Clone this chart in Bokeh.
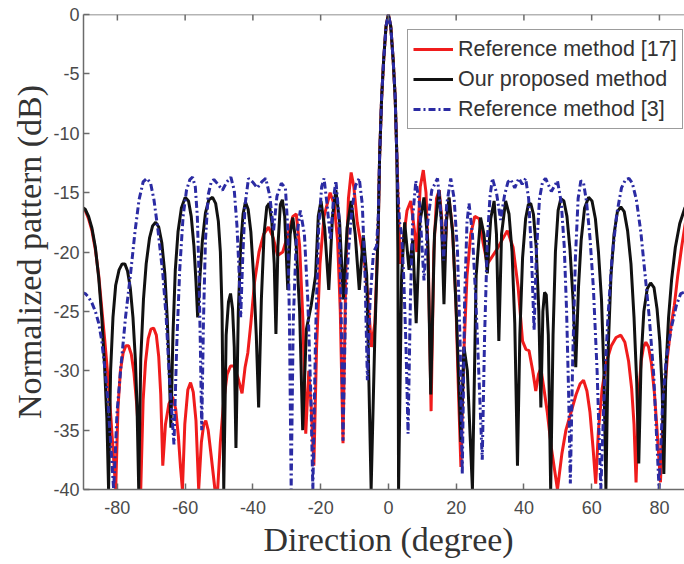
from bokeh.plotting import figure
from bokeh.models import Range1d, FixedTicker, Title, Span
from bokeh.embed import file_html
from bokeh.resources import INLINE

# ---------------- data ----------------
x_ticks = [-80, -60, -40, -20, 0, 20, 40, 60, 80]
x_tick_labels = ["-80", "-60", "-40", "-20", "0", "20", "40", "60", "80"]
y_ticks = [-40, -35, -30, -25, -20, -15, -10, -5, 0]
y_tick_labels = ["-40", "-35", "-30", "-25", "-20", "-15", "-10", "-5", "0"]

series_names = ["Reference method [17]", "Our proposed method", "Reference method [3]"]

# main beam (shared by all three methods)
beam_deg = [-2.6, -2.0, -1.4, -0.7, 0, 0.7, 1.4, 2.0, 2.5]
beam_db = [-12, -7, -3.8, -1.0, 0, -1.0, -3.8, -7, -12]

red_left_deg = [-90.5, -89.5, -88.5, -87.5, -86.5, -85.5, -84.6, -83.7, -82.8, -81.9, -81.2, -80.5,
                -79.8, -79.1, -78.3, -77.5, -76.7, -75.9, -75.1, -74.3, -73.7, -73.1,
                -72.4, -71.7, -70.9, -70.1, -69.3, -68.5, -67.8, -67.2, -66.6,
                -65.8, -64.8, -63.7, -62.8, -62, -61.4, -60.8,
                -60.1, -59.2, -58.4, -57.6, -56.8, -56,
                -55.2, -54.5, -53.9, -53.2, -52.3, -51.2,
                -50.4, -49.6, -48.6, -47.6, -46.6, -45.6, -44.5, -43.2, -42.3, -41.5, -40.6, -39.5,
                -38.2, -36.8, -35.4, -34, -32.7, -31.2, -29.6, -28.2, -27.2, -26.2, -25.2, -24.4,
                -23.5, -22.8, -22, -21.2, -20.2, -19, -17.2, -16, -15, -14.2, -13.4, -12.6, -11.8,
                -11, -10.2, -9.2, -8, -7, -6, -5, -4, -3]
red_left_db = [-16.2, -16.5, -17.2, -18.2, -19.8, -22, -24.8, -27.5, -30.5, -34, -37, -40,
               -33, -30, -28.5, -27.9, -27.9, -28.6, -30.2, -32.8, -35.5, -40,
               -32.5, -29.3, -27.3, -26.5, -26.4, -27, -28.8, -32, -38,
               -34.5, -32.8, -32.2, -33.2, -35.5, -38, -40,
               -34.5, -31.6, -31, -31.8, -34.2, -40,
               -36, -34.5, -34.2, -35, -37.2, -40,
               -40, -36, -32.5, -30.3, -29.6, -29.6, -30.5, -31.9, -29.7, -28.5, -26, -22.5,
               -20, -18.5, -17.9, -18.8, -20.3, -20, -18.5, -17, -16.8, -19.5, -26, -35.3,
               -30, -33, -38, -28, -21, -17, -15, -16, -19, -25, -36.1, -22, -15.5,
               -13.3, -14.5, -17.5, -19.5, -21, -24, -28, -26, -18]
red_right_deg = [3, 3.5, 4.4, 5.5, 6.6, 7.6, 8.4, 9.4, 10.3, 11.1, 11.8, 12.6, 13.4, 14.2, 15,
                 15.7, 16.4, 17.2, 17.9, 18.9, 19.9, 20.6, 21.4, 22.2, 23.2, 24.3, 25.5, 26.8, 28,
                 29.2, 32, 35.1, 36.8, 38.3, 39.6, 40.6, 41.5, 42.6, 43.5, 44.3, 45, 45.9, 46.9,
                 48.1, 49.9,
                 51.2, 52.4, 53.8, 55.4, 56.6, 57.6, 58.6, 59.5, 60.4, 61.2,
                 62, 63.1, 64.4, 65.8, 67.2, 68.6, 69.8, 70.9, 71.8, 72.5, 73.1,
                 73.9, 74.6, 75.3, 76.0, 76.8, 77.6, 78.5, 79.3, 80.3,
                 81.2, 82.3, 83.4, 84.4, 85.4, 86.6, 87.8, 89, 90]
red_right_db = [-17, -21, -19, -16.5, -15.7, -18, -20, -14.5, -13.1, -15, -21, -33.4, -20, -15.5, -14.8,
                -17, -22, -17, -15.5, -18, -24, -31, -38.1, -29, -22, -18.5, -17, -17.2, -19.3,
                -21, -19.8, -18.2, -19.6, -23, -27.5, -28.2, -28.3, -30, -31.7, -30.3, -29.8, -31.5, -33.5,
                -36.5, -40,
                -37, -35, -33.6, -32, -31.1, -30.8, -31.7, -33.5, -36.5, -39.5,
                -35, -31.5, -29.2, -27.9, -27.2, -27.0, -27.6, -29.2, -31.5, -34.5, -39.4,
                -32, -29.2, -28, -27.6, -28, -29.3, -31.8, -35, -39.4,
                -33, -29, -26.3, -24.5, -22, -19.5, -17.3, -16.1, -15.7]

black_left_deg = [-90.5, -89.5, -88.5, -87.5, -86.5, -85.5, -84.6, -83.8, -83.1, -82.6,
                  -82.0, -81.3, -80.5, -79.5, -78.6, -77.8, -77.0, -76.2, -75.4, -74.7, -74.2, -73.7,
                  -73.1, -72.3, -71.5, -70.5, -69.6, -68.7, -67.8, -66.9, -66.0, -65.3, -64.7, -64.2,
                  -63.6, -62.9, -62.1, -61.1, -60.0, -59.0, -58.2, -57.4, -56.8, -56.3,
                  -55.6, -54.9, -54, -53, -51.9, -51, -50.2, -49.6, -49.1, -48.6,
                  -47.9, -47.2, -46.6, -46.0, -45.5, -45.0,
                  -44.3, -43.6, -42.9, -42.2, -41.4, -40.6, -39.8, -39.0, -38.3,
                  -37.5, -36.7, -35.9, -35.2, -34.4, -33.7, -33.2,
                  -32.6, -31.9, -31.3, -30.6, -29.7, -29, -28.2, -27.2, -26.2, -25.3, -24.2, -22.8,
                  -21.5, -20.7, -19.9, -18.8, -17.6, -16.5, -15.5, -14.4, -13.3, -12.2, -11, -9.8,
                  -8.6, -7.4, -6.4, -5.1, -4.0, -3.0]
black_left_db = [-16.2, -16.4, -17.0, -18.0, -19.6, -22.2, -25.5, -29.5, -34, -40,
                 -30, -25.5, -22.8, -21.5, -21.0, -21.0, -21.6, -23, -25.5, -29, -33, -40,
                 -29, -24, -21, -18.8, -17.8, -17.5, -17.9, -19.2, -21.8, -25.5, -30, -34.8,
                 -27, -21.5, -18.3, -16.3, -15.4, -15.7, -17, -19.5, -22.5, -25.5,
                 -22, -19, -16.7, -15.6, -15.4, -15.9, -17.4, -20, -25, -40,
                 -27, -24.2, -23.5, -24.8, -28, -36.5,
                 -25, -19.5, -16.8, -15.8, -16.4, -18.3, -22, -27, -33.1,
                 -24, -18.5, -16.2, -15.9, -17.5, -21, -26.9,
                 -19.5, -16, -15.6, -17, -23.2, -18.5, -17.1, -19.5, -25, -35, -26.5, -24.5,
                 -22, -17, -15.7, -18, -23.2, -17, -14.8, -17.5, -24, -18, -15.7, -18.5,
                 -23.2, -18.6, -22, -40, -27, -18]
black_right_deg = [2.8, 3.0, 3.9, 4.8, 6.1, 7.2, 8.2, 9.3, 10.5, 11.6, 12.5, 13.6, 14.9, 15.7, 16.4,
                   17.1, 17.9, 19, 20.1, 21.4, 22.3, 23.3, 24.8, 25.9, 27.2, 28.2, 29.2, 30.2, 31.2,
                   31.9, 32.6, 33.4, 34.6, 35.6, 36.5, 37.3, 38.1,
                   38.8, 39.6, 40.5, 41.3, 42.0, 42.8, 43.6, 44.4, 45.0, 45.6, 46.1, 46.6, 47.2, 47.9,
                   48.6, 49.3, 50.1, 50.9, 51.8, 52.7, 53.6, 54.5, 55.3,
                   56.1, 56.9, 57.9, 59.1, 60.1, 61.1, 62, 62.9, 63.6, 64.2,
                   64.9, 65.7, 66.6, 67.6, 68.6, 69.6, 70.6, 71.6, 72.5, 73.3, 73.9,
                   74.6, 75.4, 76.4, 77.4, 78.4, 79.3, 80.1, 80.8, 81.3,
                   81.9, 82.7, 83.6, 84.7, 86, 87.5, 89, 90]
black_right_db = [-20, -40, -22, -17.5, -21.5, -19, -26, -17.5, -15.4, -19, -32, -18.5, -14.8, -17.5, -24.4,
                  -17.5, -15.4, -18.5, -25.5, -36, -28, -30, -40, -22, -17.1, -18.5, -21.8, -17.2, -15.7,
                  -18.5, -27.5, -18.5, -15.7, -16.8, -20, -26, -38,
                  -27, -20.5, -17.2, -16, -15.9, -16.8, -19.5, -25, -33.1, -25, -23.4, -23.6, -27, -40,
                  -27, -20, -16.5, -15.5, -15.7, -17, -19.8, -24, -29.7,
                  -23, -19, -16.3, -15.4, -15.7, -17.2, -20, -24, -30, -40,
                  -28, -22, -18.5, -16.6, -16.2, -16.6, -18.2, -21, -25.5, -31, -37.8,
                  -29, -25, -23.1, -22.6, -23, -24.8, -27.5, -31.5, -38.7,
                  -30, -25.5, -22.3, -19.6, -17.6, -16.3, -15.6, -15.4]

blue_left_deg = [-90.5, -89.5, -88.5, -87.5, -86.5, -85.5, -84.6, -83.7, -82.8, -82, -81.1,
                 -80.1, -79, -77.6, -76.1, -74.8, -73.6, -72.4, -71.3, -70.2, -69.2, -68, -66.6,
                 -65.6, -64.7, -63.3,
                 -62.5, -61.6, -60.6, -59.6, -58.6, -57.8, -57, -56.4, -55.9, -55.5, -55.1,
                 -54.6, -54, -53.2, -52.3, -51.5, -50.3, -49, -47.7, -46.5, -45.5, -44.7, -44.1, -43.6,
                 -43, -42.3, -41.3, -40.1, -38.7, -37.4, -36.2, -35, -33.9, -32.9, -31.6, -30.4,
                 -29.7, -29.2, -28.7, -28.1, -27.2, -26, -24.8, -23.8, -22.9, -22.3, -21.5, -20.6, -19.7,
                 -19, -18.1, -17.1, -16.2, -15.5, -14.6, -14, -13.4, -12.6, -11.8, -10.8, -9.7, -8.6,
                 -7.7, -6.9, -6.2, -5.4, -4.4, -3.5, -3.0]
blue_left_db = [-23.4, -23.5, -23.8, -24.3, -25, -26, -27.5, -29.8, -32.5, -36, -40,
                -33.5, -29.8, -25.5, -21.8, -18.3, -15.6, -14.1, -13.8, -14.2, -15.6, -18.2, -21.8,
                -25.5, -30.3, -36.2,
                -28, -21.5, -17, -14.8, -13.9, -13.7, -14.5, -17, -22, -28, -35,
                -26, -19, -15.2, -14.1, -13.9, -14.3, -14.8, -14.1, -13.7, -14.8, -17.8, -21.5, -25.5,
                -20.5, -16, -13.8, -14.1, -14.6, -14.1, -13.8, -15.3, -18.2, -15.3, -14.2, -14.6,
                -18, -26, -40, -26, -19, -16.5, -18.5, -24, -32, -40, -27, -18, -14.5,
                -13.8, -16, -19, -15.5, -14, -17, -24, -35.9, -24, -20, -16.5, -14.4, -13.8,
                -16, -22, -30.8, -24, -20, -19.5, -17]
blue_right_deg = [2.8, 3.3, 3.9, 4.5, 5.2, 5.8, 6.5, 7.2, 8.1, 9.2, 10.5, 11.6, 12.8, 14.5, 15.4, 16.3,
                  17.2, 18.4, 19.4, 20.4, 21.2, 21.8, 22.5, 23.2, 23.8, 24.8, 25.8, 26.8, 27.7, 28.4,
                  29.2, 30, 30.7, 31.9, 33.1, 34.3, 35.3, 36.1, 37.3, 38.5, 39.5, 40.5, 41.4, 42.2,
                  43.0, 43.7, 44.6, 45.5, 46.4, 48.1, 49.9, 51, 51.9, 52.6, 53.2, 53.7,
                  54.4, 55.2, 56, 56.8, 57.6, 58.5, 59.5, 60.5, 61.6, 62.7,
                  63.8, 64.8, 66, 67.4, 68.8, 70, 71, 72, 73.2, 74.5, 75.8, 77, 78.3, 79.9,
                  80.9, 82, 83.5, 85, 86.3, 88, 90]
blue_right_db = [-15, -17.5, -18.5, -22, -28, -35.3, -24, -17, -14, -16, -22.4, -17.5, -14.8, -13.8, -16.5, -20.7,
                 -16, -13.8, -15.5, -20, -28, -38.7, -24, -17.5, -15.9, -18.5, -24, -31, -37.5, -27,
                 -19, -15.3, -13.8, -15, -17.3, -15.2, -14.1, -13.9, -14.6, -13.8, -14.3, -13.8, -15.5, -20,
                 -26.6, -20, -15.5, -14.1, -13.8, -14.9, -14, -15.8, -19.5, -25, -32, -39.5,
                 -29, -20.5, -15.5, -14, -14.2, -15.8, -18.8, -23, -30, -40,
                 -31, -25.5, -20.5, -16.8, -14.6, -13.9, -13.8, -14.2, -15.6, -18.3, -22, -25.5, -30.3, -40,
                 -33, -29, -26.4, -24.5, -23.5, -23.3, -23.2]

red_deg = red_left_deg + beam_deg + red_right_deg
red_db = red_left_db + beam_db + red_right_db
black_deg = black_left_deg + beam_deg + black_right_deg
black_db = black_left_db + beam_db + black_right_db
blue_deg = blue_left_deg + beam_deg + blue_right_deg
blue_db = blue_left_db + beam_db + blue_right_db

# ---------------- figure ----------------
AXIS_GREY = "#6b6b6b"
TICK_TXT = "#4a4a4a"
Y_MIN, Y_MAX = -40, 0

p = figure(width=684, height=564, output_backend="svg", toolbar_location=None,
           x_range=Range1d(-90, 87.4), y_range=Range1d(Y_MIN, Y_MAX),
           min_border_left=83, min_border_right=0, min_border_top=14, min_border_bottom=75)
p.outline_line_color = None
p.grid.visible = False
p.background_fill_color = "white"
p.border_fill_color = "white"

p.line(red_deg, red_db, line_color="#f01c1c", line_width=3, legend_label=series_names[0])
p.line(black_deg, black_db, line_color="#111111", line_width=3, legend_label=series_names[1])
p.line(blue_deg, blue_db, line_color="#2b2ba3", line_width=3, line_dash="7 3 2 3",
       legend_label=series_names[2])

# box edge on top with inward ticks (MATLAB style)
p.add_layout(Span(location=Y_MAX, dimension="width", line_color=AXIS_GREY, line_width=1.5))
p.ray(x=x_ticks, y=[Y_MAX] * len(x_ticks), length=6, length_units="screen",
      angle=-90, angle_units="deg", line_color=AXIS_GREY, line_width=1.5)

def style_axis(ax):
    ax.axis_line_color = AXIS_GREY
    ax.axis_line_width = 1.5
    ax.major_tick_line_color = AXIS_GREY
    ax.major_tick_line_width = 1.5
    ax.major_tick_in = 6
    ax.major_tick_out = 0
    ax.minor_tick_line_color = None
    ax.major_label_text_font = "Liberation Sans"
    ax.major_label_text_font_size = "18px"
    ax.major_label_text_color = TICK_TXT

xa = p.xaxis[0]
xa.ticker = FixedTicker(ticks=x_ticks)
xa.major_label_overrides = dict(zip(x_ticks, x_tick_labels))
style_axis(xa)
xa.major_label_standoff = 11

ya = p.yaxis[0]
ya.ticker = FixedTicker(ticks=y_ticks)
ya.major_label_overrides = dict(zip(y_ticks, y_tick_labels))
style_axis(ya)
ya.major_label_standoff = 4
ya.axis_label = "Normalized pattern (dB)"
ya.axis_label_text_font = "Liberation Serif"
ya.axis_label_text_font_size = "34px"
ya.axis_label_text_font_style = "normal"
ya.axis_label_text_color = "#333333"
ya.axis_label_standoff = 2

p.add_layout(Title(text="Direction (degree)", align="left", offset=180,
                   text_font="Liberation Serif", text_font_size="34px",
                   text_font_style="normal", text_color="#333333", standoff=5), "below")

lg = p.legend[0]
lg.location = (324, 360)
lg.label_text_font = "Liberation Sans"
lg.label_text_font_size = "21.5px"
lg.label_text_color = "#333333"
lg.glyph_width = 40
lg.glyph_height = 28
lg.label_height = 28
lg.label_standoff = 5
lg.spacing = 2
lg.padding = 5
lg.margin = 0
lg.border_line_color = "#3a3a3a"
lg.border_line_width = 1.5
lg.background_fill_color = "white"
lg.background_fill_alpha = 1.0

open("out.html", "w").write(file_html(p, INLINE))
